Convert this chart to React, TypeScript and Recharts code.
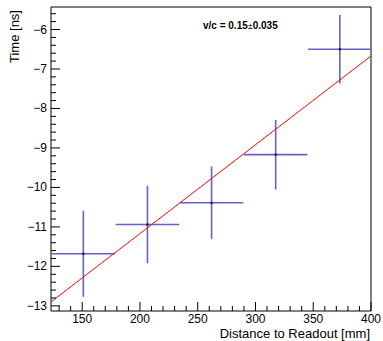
import { ComposedChart, Scatter, Line, XAxis, YAxis, ErrorBar, ReferenceArea } from 'recharts';

// measured points (distance in mm, time in ns)
const distance = [151, 206.5, 262, 317.5, 373];
const distanceErr = [27.5, 27.5, 27.5, 27.5, 27.5];
const time = [-11.68, -10.94, -10.39, -9.17, -6.5];
const timeErr = [1.09, 0.98, 0.92, 0.88, 0.87];

// fitted straight line, end points
const fitX = [123, 400];
const fitY = [-12.9, -6.67];

const xMajor = [150, 200, 250, 300, 350, 400];
const yMajor = [-13, -12, -11, -10, -9, -8, -7, -6];

const X_DOMAIN = [123, 400];
const Y_DOMAIN = [-13.13, -5.43];

const points = distance.map((d, i) => ({ x: d, y: time[i], ex: distanceErr[i], ey: timeErr[i] }));
const fit = fitX.map((x, i) => ({ x, fit: fitY[i] }));

// minor ticks every 10 mm and every 0.2 ns
const xTicks: number[] = [];
for (let v = 130; v <= 400; v += 10) xTicks.push(v);
const yTicks: number[] = [];
for (let k = -65; k <= -28; k++) yTicks.push(k / 5);

const FONT = '"Liberation Sans", Arial, sans-serif';

const XTick = ({ x, y, payload }: any) => {
  const major = xMajor.includes(payload.value);
  return (
    <g>
      <line x1={x} x2={x} y1={y} y2={y - (major ? 9 : 5)} stroke="#000" />
      {major && (
        <text x={x} y={y + 12} textAnchor="middle" fontSize={12} fontFamily={FONT} fill="#000">
          {payload.value}
        </text>
      )}
    </g>
  );
};

const YTick = ({ x, y, payload }: any) => {
  const v = payload.value;
  const major = yMajor.some((m) => Math.abs(m - v) < 1e-6);
  return (
    <g>
      <line x1={x} x2={x + (major ? 9 : 5)} y1={y} y2={y} stroke="#000" />
      {major && (
        <text x={x - 4} y={y + 4} textAnchor="end" fontSize={12} fontFamily={FONT} fill="#000">
          {String(Math.round(v)).replace('-', '\u2212')}
        </text>
      )}
    </g>
  );
};

const Dot = ({ cx, cy }: any) => <rect x={cx - 1} y={cy - 1} width={2} height={2} fill="#000" />;

export default function App() {
  return (
    <div style={{ position: 'fixed', left: 0, top: 0, width: 383, height: 341, background: '#fff', fontFamily: FONT }}>
      <ComposedChart width={383} height={341} margin={{ top: 7, right: 12, left: 0, bottom: 0 }}>
        <XAxis
          type="number"
          dataKey="x"
          domain={X_DOMAIN}
          allowDataOverflow
          ticks={xTicks}
          interval={0}
          tick={<XTick />}
          tickLine={false}
          tickSize={0}
          tickMargin={0}
          axisLine={false}
          height={30}
        />
        <YAxis
          type="number"
          domain={Y_DOMAIN}
          allowDataOverflow
          ticks={yTicks}
          interval={0}
          tick={<YTick />}
          tickLine={false}
          tickSize={0}
          tickMargin={0}
          axisLine={false}
          width={51}
        />
        <ReferenceArea
          x1={X_DOMAIN[0]}
          x2={X_DOMAIN[1]}
          y1={Y_DOMAIN[0]}
          y2={Y_DOMAIN[1]}
          fill="none"
          stroke="#000"
          strokeWidth={1}
          ifOverflow="visible"
        />
        <Scatter data={points} dataKey="y" shape={<Dot />} isAnimationActive={false}>
          <ErrorBar dataKey="ex" direction="x" width={0} stroke="#6262c8" strokeWidth={1.6} isAnimationActive={false} />
          <ErrorBar dataKey="ey" direction="y" width={0} stroke="#6262c8" strokeWidth={1.6} isAnimationActive={false} />
        </Scatter>
        <Line data={fit} dataKey="fit" type="linear" stroke="#ff0000" strokeWidth={1} dot={false} activeDot={false} isAnimationActive={false} />
      </ComposedChart>
      <div style={{ position: 'absolute', right: 13, top: 327, fontSize: 13, lineHeight: '13px', color: '#000', whiteSpace: 'nowrap' }}>
        Distance to Readout [mm]
      </div>
      <div
        style={{
          position: 'absolute',
          left: 7,
          top: 7,
          fontSize: 13,
          color: '#000',
          whiteSpace: 'nowrap',
          transformOrigin: 'left top',
          transform: 'translate(0px, 56px) rotate(-90deg)',
        }}
      >
        Time [ns]
      </div>
      <div style={{ position: 'absolute', left: 203, top: 20, fontSize: 10, fontWeight: 'bold', color: '#000', whiteSpace: 'nowrap' }}>
        v/c = 0.15<span style={{ fontWeight: 'normal', fontSize: 9 }}>±</span>0.035
      </div>
    </div>
  );
}
